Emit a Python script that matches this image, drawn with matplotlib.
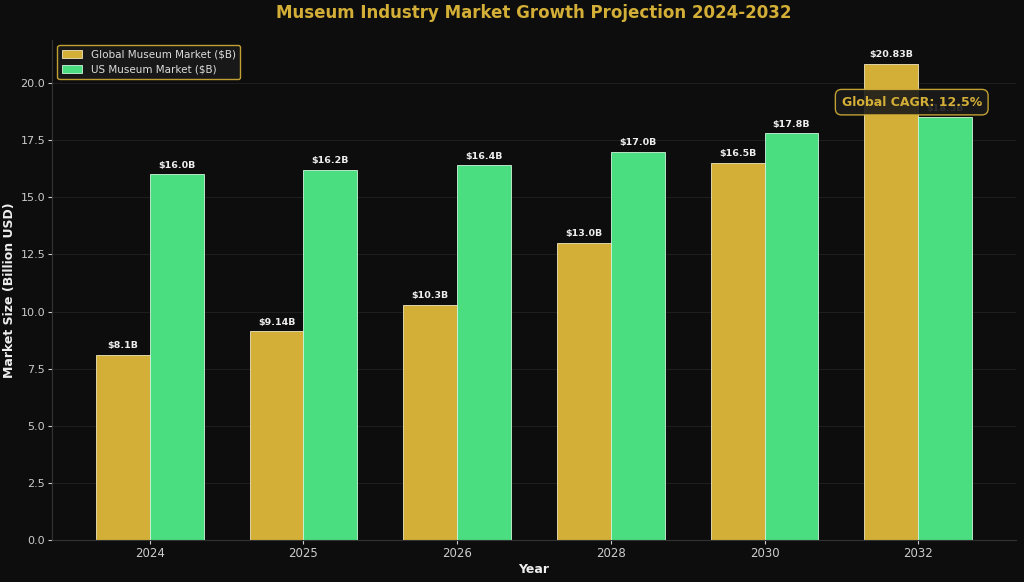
import numpy as np
import matplotlib; matplotlib.use('Agg')
import matplotlib.pyplot as plt

years = ['2024', '2025', '2026', '2028', '2030', '2032']
global_mkt = [8.1, 9.14, 10.3, 13.0, 16.5, 20.83]
us_mkt = [16.0, 16.2, 16.4, 17.0, 17.8, 18.5]
global_labels = ['$8.1B', '$9.14B', '$10.3B', '$13.0B', '$16.5B', '$20.83B']
us_labels = ['$16.0B', '$16.2B', '$16.4B', '$17.0B', '$17.8B', '$18.5B']

BG = '#0d0d0d'
GOLD = '#D4AF37'
GREEN = '#4ADE80'

fig = plt.figure(figsize=(10.24, 5.82), dpi=100)
fig.patch.set_facecolor(BG)
ax = fig.add_axes([0.051, 0.072, 0.941, 0.859])
ax.set_facecolor(BG)

x = np.arange(len(years))
w = 0.35
b1 = ax.bar(x - w/2, global_mkt, w, color=GOLD, edgecolor='#f0e6c0', linewidth=0.6,
            label='Global Museum Market ($B)', zorder=2)
b2 = ax.bar(x + w/2, us_mkt, w, color=GREEN, edgecolor='#d0f5dc', linewidth=0.6,
            label='US Museum Market ($B)', zorder=2)

for bars, labs in [(b1, global_labels), (b2, us_labels)]:
    for bar, lab in zip(bars, labs):
        ax.text(bar.get_x() + bar.get_width()/2, bar.get_height() + 0.2, lab,
                ha='center', va='bottom', fontsize=6.8, fontweight='bold', color='#eeeeee', zorder=3)

ax.set_ylim(0, max(global_mkt) * 1.05)
ax.set_xticks(x)
ax.set_xticklabels(years)
ax.tick_params(axis='x', colors='#cccccc', labelsize=8.5, length=3, pad=2)
ax.tick_params(axis='y', colors='#cccccc', labelsize=8, length=3, pad=2)
ax.grid(axis='y', color='#2a2a2a', linewidth=0.8, alpha=0.6, zorder=0)
ax.set_axisbelow(True)
for s in ['top', 'right']:
    ax.spines[s].set_visible(False)
for s in ['left', 'bottom']:
    ax.spines[s].set_color('#333333')

ax.set_xlabel('Year', fontsize=9, fontweight='bold', color='#eeeeee', labelpad=2)
ax.set_ylabel('Market Size (Billion USD)', fontsize=9, fontweight='bold', color='#eeeeee', labelpad=3)
ax.set_title('Museum Industry Market Growth Projection 2024-2032', fontsize=12,
             fontweight='bold', color=GOLD, pad=16)

ax.legend(loc='upper left', fontsize=7.5, facecolor='#1a1a1a', edgecolor=GOLD,
          labelcolor='#dddddd', framealpha=0.9)

# the CAGR box sits over the last US bar label, as in the source chart
ax.text(0.892, 0.876, 'Global CAGR: 12.5%', transform=ax.transAxes, ha='center', va='center',
        fontsize=9, fontweight='bold', color=GOLD, zorder=5,
        bbox=dict(boxstyle='round,pad=0.5', facecolor='#1a1a1a', edgecolor=GOLD, alpha=0.9))

fig.savefig('out.png', dpi=100, facecolor=BG)
